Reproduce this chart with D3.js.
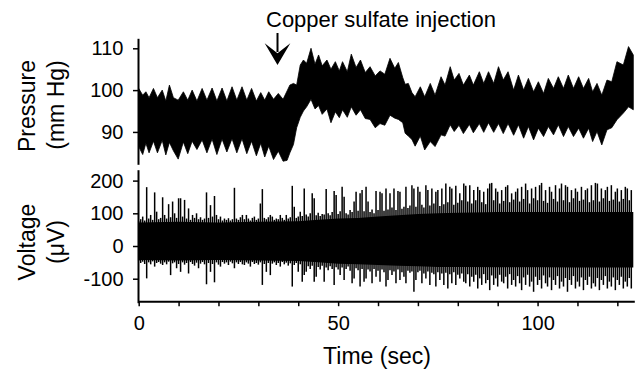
<!DOCTYPE html>
<html>
<head>
<meta charset="utf-8">
<script src="https://cdn.jsdelivr.net/npm/d3@7"></script>
<style>
  body { margin: 0; background: #fff; }
  svg { display: block; font-family: "Liberation Sans", Arial, Helvetica, sans-serif; }
</style>
</head>
<body>
<div id="chart"></div>
<script>
// Pressure trace: upper / lower envelope of the band (mm Hg), read at each breath peak and dip
const pressTime = [
  0, 1.0, 1.8, 2.6, 3.7, 4.7, 5.9, 6.8, 7.7, 8.7,
  9.9, 11.2, 12.3, 13.4, 14.6, 15.9, 17.1, 18.4, 19.6, 20.9,
  22.1, 23.4, 24.6, 25.9, 27.1, 28.3, 29.5, 30.6, 31.6, 32.6,
  33.8, 35.0, 36.2, 37.2, 37.9, 38.8, 39.6, 40.5, 41.3, 42.1,
  43.2, 44.2, 45.1, 46.0, 47.2, 48.2, 49.3, 50.3, 51.1, 52.3,
  53.3, 54.5, 55.6, 56.8, 58.0, 59.3, 60.5, 61.7, 63.0, 64.2,
  65.1, 66.2, 66.8, 67.6, 68.5, 69.3, 70.6, 71.7, 73.1, 74.3,
  75.8, 76.8, 78.1, 79.1, 80.3, 81.4, 82.9, 83.9, 85.4, 86.5,
  87.7, 89.0, 90.2, 91.4, 92.6, 94.0, 95.2, 96.5, 97.7, 99.0,
  100.2, 101.5, 102.7, 104.0, 105.2, 106.5, 107.7, 109.0, 110.3, 111.5,
  112.8, 113.8, 114.9, 116.1, 117.4, 118.6, 119.9, 121.5, 122.8, 124.0
];
const pressHigh = [
  100.4, 98.8, 99.6, 98.2, 100.4, 98.2, 100.0, 97.4, 101.2, 98.2,
  97.6, 99.6, 97.6, 100.0, 97.4, 100.4, 97.6, 100.5, 97.4, 100.5,
  97.4, 100.8, 97.6, 100.8, 97.6, 100.4, 97.4, 99.4, 97.6, 99.6,
  97.8, 99.2, 97.8, 99.8, 101.2, 101.6, 101.2, 106.0, 107.2, 106.4,
  110.0, 106.2, 108.4, 105.8, 107.2, 105.0, 106.8, 104.6, 106.8, 104.4,
  108.6, 105.4, 107.2, 104.2, 105.6, 103.4, 104.6, 103.8, 107.6, 105.2,
  106.6, 103.0, 101.4, 101.6, 99.4, 98.4, 100.8, 98.4, 101.6, 98.8,
  103.2, 101.2, 105.6, 102.4, 104.0, 101.2, 103.6, 101.2, 104.4, 101.6,
  104.4, 101.6, 105.6, 102.4, 104.4, 100.0, 103.6, 100.0, 102.8, 99.6,
  102.0, 99.2, 102.8, 100.4, 103.2, 100.4, 103.6, 100.4, 103.2, 100.4,
  102.8, 99.6, 101.6, 98.8, 102.4, 102.0, 106.8, 106.0, 110.4, 108.4
];
const pressLow = [
  86.5, 84.6, 87.3, 85.0, 87.8, 85.0, 88.0, 84.5, 87.5, 85.5,
  83.5, 87.6, 84.8, 87.8, 85.8, 88.1, 85.0, 88.3, 84.6, 88.3,
  85.2, 88.4, 85.0, 88.4, 84.8, 87.8, 84.3, 87.3, 84.0, 86.6,
  83.4, 85.4, 83.0, 83.2, 85.0, 87.0, 91.0, 93.5, 95.0, 96.0,
  97.8, 95.5, 96.3, 94.2, 95.5, 92.2, 94.8, 93.4, 95.3, 93.5,
  96.0, 94.0, 95.3, 93.2, 93.0, 91.0, 92.0, 91.6, 94.0, 93.3,
  93.0, 92.2, 89.7, 89.0, 88.2, 86.6, 89.0, 85.7, 87.7, 86.5,
  89.3, 89.0, 91.7, 90.1, 91.6, 89.6, 91.8, 89.8, 92.0, 89.9,
  92.2, 89.9, 92.0, 89.6, 92.0, 89.2, 91.7, 88.5, 91.3, 88.1,
  90.9, 88.9, 91.3, 89.3, 91.7, 88.9, 91.3, 88.9, 90.9, 88.5,
  90.9, 87.7, 90.1, 86.9, 90.5, 91.0, 92.9, 94.5, 96.0, 95.3
];

// Nerve recording (µV): largest and smallest value in each 0.5 s bin
const voltBinSec = 0.5;
const voltMax = [
  76, 82, 90, 78, 180, 84, 95, 80, 164, 105, 82, 86, 149, 95, 84, 128, 88, 136, 100, 86,
  146, 146, 90, 141, 84, 115, 80, 95, 86, 100, 82, 88, 80, 84, 164, 86, 125, 90, 153, 95,
  82, 90, 78, 84, 80, 85, 78, 82, 178, 84, 80, 88, 95, 82, 95, 84, 78, 86, 90, 80,
  84, 130, 174, 86, 82, 88, 95, 90, 80, 84, 82, 95, 86, 80, 95, 84, 88, 184, 120, 86,
  90, 105, 92, 176, 96, 90, 100, 161, 146, 94, 102, 92, 98, 96, 174, 100, 94, 104, 168, 156,
  98, 106, 181, 151, 100, 96, 110, 104, 136, 166, 108, 161, 171, 106, 181, 136, 104, 112, 100, 168,
  110, 166, 161, 108, 176, 112, 161, 118, 176, 110, 168, 166, 114, 120, 181, 116, 124, 186, 176, 120,
  181, 166, 126, 118, 186, 171, 124, 176, 130, 166, 171, 122, 176, 128, 191, 134, 181, 176, 126, 184,
  132, 161, 140, 191, 184, 136, 186, 130, 171, 140, 181, 171, 134, 166, 128, 176, 191, 193, 140, 176,
  166, 130, 171, 138, 181, 186, 134, 161, 142, 166, 176, 136, 181, 144, 191, 171, 130, 176, 146, 181,
  140, 186, 193, 138, 171, 132, 181, 166, 144, 186, 136, 176, 191, 140, 186, 181, 134, 171, 146, 176,
  166, 138, 181, 142, 171, 176, 134, 186, 140, 193, 191, 136, 176, 146, 171, 181, 138, 186, 142, 166,
  176, 136, 171, 144, 181, 176, 140, 171
];
const voltMin = [
  -46, -52, -48, -55, -99, -50, -56, -47, -63, -52, -49, -54, -58, -50, -56, -48, -89, -53, -50, -68,
  -55, -79, -50, -57, -52, -84, -49, -55, -60, -51, -68, -54, -49, -56, -117, -52, -79, -55, -111, -50,
  -57, -63, -49, -54, -50, -58, -48, -53, -68, -50, -55, -49, -56, -58, -50, -54, -63, -49, -55, -52,
  -57, -50, -119, -55, -79, -52, -89, -54, -50, -58, -52, -63, -49, -56, -51, -60, -53, -124, -58, -52,
  -79, -56, -109, -89, -79, -62, -70, -60, -109, -94, -64, -72, -60, -109, -66, -74, -62, -70, -119, -65,
  -72, -89, -66, -104, -70, -63, -76, -114, -99, -68, -74, -124, -70, -109, -99, -72, -78, -114, -70, -94,
  -76, -109, -72, -80, -124, -104, -74, -89, -78, -114, -72, -104, -80, -94, -114, -76, -82, -78, -140, -104,
  -80, -76, -114, -84, -99, -78, -119, -82, -86, -124, -80, -104, -84, -119, -82, -130, -86, -114, -80, -119,
  -88, -99, -84, -109, -114, -86, -124, -94, -109, -88, -130, -99, -119, -86, -114, -104, -135, -90, -119, -99,
  -124, -88, -109, -114, -94, -130, -86, -119, -104, -124, -92, -114, -135, -96, -119, -88, -124, -109, -140, -94,
  -119, -104, -130, -90, -114, -124, -96, -135, -104, -119, -92, -130, -109, -124, -98, -140, -104, -119, -92, -130,
  -109, -124, -96, -135, -104, -119, -94, -130, -114, -124, -98, -135, -104, -119, -92, -130, -109, -124, -96, -135,
  -104, -119, -94, -130, -109, -124, -98, -130
];
// dense core of the recording
const voltCoreTime = [0, 10, 20, 30, 40, 45, 50, 55, 60, 65, 70, 75, 80, 90, 100, 110, 124];
const voltCoreHigh = [72, 74, 72, 74, 76, 80, 84, 86, 90, 94, 98, 100, 102, 104, 104, 104, 104];
const voltCoreLow = [-43, -44, -43, -44, -46, -50, -54, -56, -58, -60, -62, -64, -64, -65, -65, -66, -66];

const pressTicks = [90, 100, 110];
const voltTicks = [-100, 0, 100, 200];
const timeTicks = [0, 10, 20, 30, 40, 50, 60, 70, 80, 90, 100, 110, 120];
const timeLabels = [0, 50, 100];
const injectionTime = 34.8;
const injectionLabel = 'Copper sulfate injection';

const width = 638;
const height = 372;

const svg = d3.select('#chart')
  .append('svg')
  .attr('width', width)
  .attr('height', height);

const x = d3.scaleLinear().domain([0, 124]).range([138.7, 633.3]);
const yPress = d3.scaleLinear().domain([82.5, 112.15]).range([163.3, 39.3]);
const yVolt = d3.scaleLinear().domain([-170.3, 230.3]).range([301.7, 170.7]);

// pressure band
const pressArea = d3.area()
  .x(i => x(pressTime[i]))
  .y0(i => yPress(pressLow[i]))
  .y1(i => yPress(pressHigh[i]));

svg.append('path')
  .datum(d3.range(pressTime.length))
  .attr('d', pressArea)
  .attr('fill', '#000')
  .attr('stroke', '#000')
  .attr('stroke-width', 0.8)
  .attr('stroke-linejoin', 'round');

// voltage core
const coreArea = d3.area()
  .x(i => x(voltCoreTime[i]))
  .y0(i => yVolt(voltCoreLow[i]))
  .y1(i => yVolt(voltCoreHigh[i]));

svg.append('path')
  .datum(d3.range(voltCoreTime.length))
  .attr('d', coreArea)
  .attr('fill', '#000');

// voltage spikes, one line per bin
svg.append('g')
  .selectAll('line')
  .data(voltMax.map((v, i) => ({ t: i * voltBinSec, hi: v, lo: voltMin[i] })))
  .enter()
  .append('line')
  .attr('x1', d => x(d.t))
  .attr('x2', d => x(d.t))
  .attr('y1', d => yVolt(d.hi))
  .attr('y2', d => yVolt(d.lo))
  .attr('stroke', '#000')
  .attr('stroke-width', 1.5);

function styleAxis(g) {
  g.attr('font-family', null).attr('font-size', null);
  g.select('.domain').attr('stroke-width', 2).attr('stroke-linecap', 'square');
  g.selectAll('.tick line').attr('stroke-width', 1.5);
  g.selectAll('.tick text').attr('fill', '#000').style('font-size', '20px');
}

svg.append('g')
  .attr('transform', 'translate(138,0)')
  .call(d3.axisLeft(yPress).tickValues(pressTicks).tickSize(5).tickPadding(9.5).tickSizeOuter(0))
  .call(styleAxis);

svg.append('g')
  .attr('transform', 'translate(138,0)')
  .call(d3.axisLeft(yVolt).tickValues(voltTicks).tickSize(5).tickPadding(9.5).tickSizeOuter(0)
    .tickFormat(d => d < 0 ? '-' + Math.abs(d) : d))
  .call(styleAxis);

svg.append('g')
  .attr('transform', 'translate(0,301.2)')
  .call(d3.axisBottom(x).tickValues(timeTicks).tickSize(5).tickPadding(9.8).tickSizeOuter(0)
    .tickFormat(d => timeLabels.includes(d) ? d : ''))
  .call(styleAxis);

// axis titles
const titles = [
  { text: 'Pressure', x: 35, y: 106 },
  { text: '(mm Hg)', x: 63.5, y: 105 },
  { text: 'Voltage', x: 35, y: 242 },
  { text: '(\u03bcV)', x: 63.5, y: 242 }
];
svg.selectAll('.ytitle')
  .data(titles)
  .enter()
  .append('text')
  .attr('class', 'ytitle')
  .attr('transform', d => `translate(${d.x},${d.y}) rotate(-90)`)
  .attr('text-anchor', 'middle')
  .style('font-size', '23px')
  .text(d => d.text);

svg.append('text')
  .attr('x', 377)
  .attr('y', 364)
  .attr('text-anchor', 'middle')
  .style('font-size', '23px')
  .text('Time (sec)');

// injection marker
const ax = x(injectionTime);
svg.append('line')
  .attr('x1', ax).attr('x2', ax)
  .attr('y1', 33).attr('y2', 52)
  .attr('stroke', '#000')
  .attr('stroke-width', 2);

svg.append('path')
  .attr('d', `M${ax},65 L${ax - 12.8},43.3 L${ax},53.3 L${ax + 12.8},43.3 Z`)
  .attr('fill', '#000');

svg.append('text')
  .attr('x', ax - 11.5)
  .attr('y', 26.7)
  .style('font-size', '22px')
  .text(injectionLabel);
</script>
</body>
</html>
